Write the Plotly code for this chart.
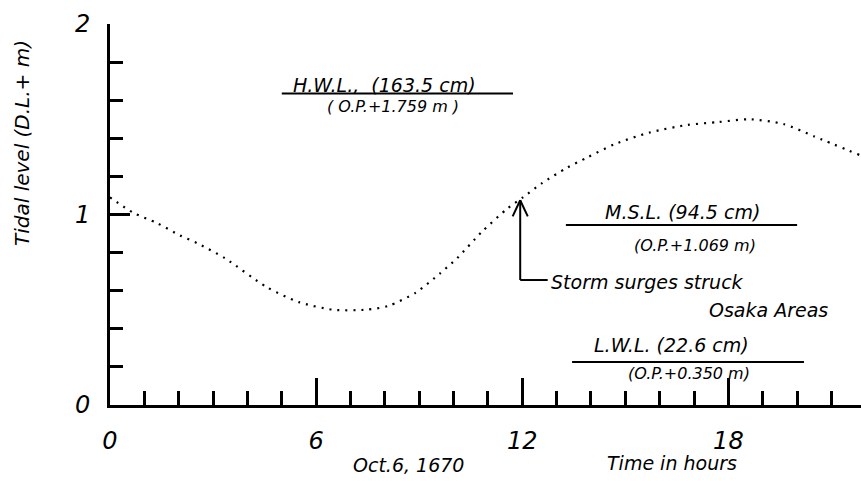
import plotly.graph_objects as go

# ---- data ----
hours = [0, 0.67, 1.37, 2.04, 2.53, 3.35, 4.55, 5.5, 6.5, 7.45, 8.1, 8.9, 9.6,
         10.1, 10.83, 11.56, 12.02, 12.58, 13.3, 13.9, 14.7, 15.7, 16.8, 17.7, 18.6,
         19.6, 20.5, 21.85]
tide_m = [1.09, 1.01, 0.955, 0.89, 0.85, 0.77, 0.62, 0.54, 0.50, 0.50, 0.52, 0.59, 0.69,
          0.77, 0.91, 1.03, 1.09, 1.165, 1.245, 1.30, 1.37, 1.43, 1.47, 1.485, 1.50,
          1.475, 1.41, 1.31]

level_names = ["H.W.L.,  (163.5 cm)", "M.S.L. (94.5 cm)", "L.W.L. (22.6 cm)"]
level_sub = ["( O.P.+1.759 m )", "(O.P.+1.069 m)", "(O.P.+0.350 m)"]
level_values = [1.635, 0.945, 0.226]
level_x0 = [5.0, 13.27, 13.45]
level_x1 = [11.73, 20.0, 20.2]

x_ticks = [0, 6, 12, 18]
y_ticks = [0, 1, 2]
surge_time = 11.94
surge_level = 1.075

FONT = "DejaVu Sans"
ital = dict(family=FONT, size=19, color="black", style="italic")

fig = go.Figure()
fig.add_trace(go.Scatter(
    x=hours, y=tide_m, mode="lines",
    line=dict(color="black", width=2.2, dash="2px,6px", shape="spline", smoothing=0.7),
    showlegend=False, hoverinfo="skip"))

shapes = []
annotations = []
# level lines + labels
lab_dx = [3.0, 3.4, 2.9]
lab_dy = [0.045, 0.068, 0.089]
sub_dx = [3.24, 3.75, 3.41]
sub_dy = [-0.07, -0.11, -0.063]
for nm, sb, v, a, b, dx, dy, sdx, sdy in zip(level_names, level_sub, level_values,
                                              level_x0, level_x1, lab_dx, lab_dy, sub_dx, sub_dy):
    shapes.append(dict(type="line", x0=a, x1=b, y0=v, y1=v, xref="x", yref="y",
                       line=dict(color="black", width=2)))
    annotations.append(dict(x=a + dx, y=v + dy, text=nm, showarrow=False, xref="x", yref="y",
                            xanchor="center", yanchor="middle", font=ital))
    annotations.append(dict(x=a + sdx, y=v + sdy, text=sb, showarrow=False, xref="x", yref="y",
                            xanchor="center", yanchor="middle",
                            font=dict(family=FONT, size=16, color="black", style="italic")))

# storm surge arrow
elbow_y = 0.656
shapes.append(dict(type="line", x0=surge_time, x1=surge_time, y0=elbow_y, y1=surge_level,
                   line=dict(color="black", width=2)))
shapes.append(dict(type="line", x0=surge_time, x1=surge_time + 0.8, y0=elbow_y, y1=elbow_y,
                   line=dict(color="black", width=2)))
shapes.append(dict(type="line", x0=surge_time - 0.22, x1=surge_time, y0=surge_level - 0.085,
                   y1=surge_level, line=dict(color="black", width=2)))
shapes.append(dict(type="line", x0=surge_time + 0.22, x1=surge_time, y0=surge_level - 0.085,
                   y1=surge_level, line=dict(color="black", width=2)))
annotations.append(dict(x=surge_time + 0.85, y=elbow_y - 0.01, text="Storm surges struck",
                        showarrow=False, xanchor="left", yanchor="middle", font=ital))
annotations.append(dict(x=20.96, y=0.50, text="Osaka Areas",
                        showarrow=False, xanchor="right", yanchor="middle", font=ital))

# axis titles
annotations.append(dict(x=-0.117, y=0.688, xref="paper", yref="paper", text="Tidal level (D.L.+ m)",
                        textangle=-90, showarrow=False, xanchor="center", yanchor="middle",
                        font=dict(family=FONT, size=20, color="black", style="italic")))
annotations.append(dict(x=8.68, y=-0.157, xref="x", yref="paper", text="Oct.6, 1670",
                        showarrow=False, xanchor="center", yanchor="middle", font=ital))
annotations.append(dict(x=16.36, y=-0.152, xref="x", yref="paper", text="Time in hours",
                        showarrow=False, xanchor="center", yanchor="middle", font=ital))

fig.update_layout(
    width=861, height=481,
    margin=dict(l=110, r=0, t=24, b=76),
    paper_bgcolor="white", plot_bgcolor="white",
    shapes=shapes, annotations=annotations,
    xaxis=dict(range=[0, 21.86], showgrid=False, zeroline=False, showline=True,
               linecolor="black", linewidth=3, ticks="inside", ticklen=27, tickwidth=2.5,
               tickcolor="black", tickvals=x_ticks, ticktext=[str(t) for t in x_ticks],
               ticklabelstandoff=12,
               tickfont=dict(family=FONT, size=24, color="black", style="italic"),
               minor=dict(ticks="inside", dtick=1, ticklen=14, tickwidth=2.5, tickcolor="black",
                          showgrid=False)),
    yaxis=dict(range=[0, 2], showgrid=False, zeroline=False, showline=True,
               linecolor="black", linewidth=3, ticks="inside", ticklen=20, tickwidth=2.5,
               tickcolor="black", tickvals=y_ticks, ticktext=[str(t) for t in y_ticks],
               ticklabelstandoff=12,
               tickfont=dict(family=FONT, size=24, color="black", style="italic"),
               minor=dict(ticks="inside", dtick=0.2, ticklen=13, tickwidth=2.5, tickcolor="black",
                          showgrid=False)),
)

fig.write_html("out.html")
